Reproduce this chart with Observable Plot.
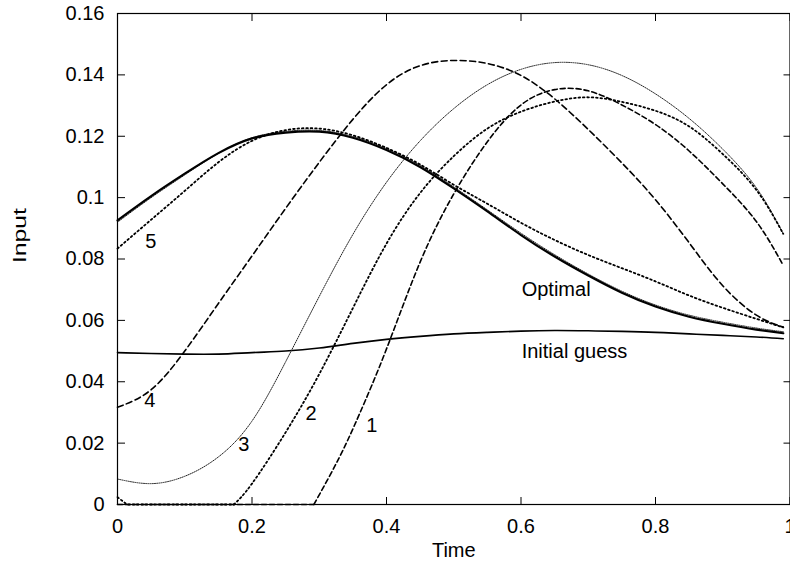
<!DOCTYPE html>
<html>
<head>
<meta charset="utf-8">
<script src="https://cdn.jsdelivr.net/npm/d3@7"></script>
<script src="https://cdn.jsdelivr.net/npm/@observablehq/plot@0.6"></script>
<style>
  html, body { margin: 0; padding: 0; background: white; }
  #chart { width: 790px; height: 569px; overflow: hidden; }
</style>
</head>
<body>
<div id="chart"></div>
<script>
// Shared time grid
const time = [0, 0.05, 0.1, 0.15, 0.2, 0.25, 0.3, 0.35, 0.4, 0.45, 0.5, 0.55, 0.6, 0.65, 0.7, 0.75, 0.8, 0.85, 0.9, 0.95, 0.99];

// Series values
const initialGuess = [0.0495, 0.0492, 0.0490, 0.0490, 0.0495, 0.0500, 0.0510, 0.0525, 0.0538, 0.0548, 0.0556, 0.0561, 0.0565, 0.0567, 0.0566, 0.0564, 0.0561, 0.0556, 0.0551, 0.0546, 0.0540];
const optimal      = [0.0926, 0.1005, 0.1078, 0.1145, 0.1193, 0.1212, 0.1215, 0.1195, 0.1155, 0.1100, 0.1030, 0.0955, 0.0878, 0.0808, 0.0746, 0.0690, 0.0645, 0.0612, 0.0589, 0.0570, 0.0558];
const iter6        = [0.0920, 0.1000, 0.1074, 0.1144, 0.1195, 0.1216, 0.1219, 0.1199, 0.1160, 0.1105, 0.1035, 0.0960, 0.0884, 0.0814, 0.0751, 0.0695, 0.0650, 0.0617, 0.0594, 0.0575, 0.0563];
const iter5        = [0.0834, 0.0928, 0.1022, 0.1115, 0.1185, 0.1220, 0.1225, 0.1203, 0.1162, 0.1108, 0.1042, 0.0980, 0.0918, 0.0862, 0.0813, 0.0770, 0.0727, 0.0681, 0.0641, 0.0605, 0.0577];
const iter4        = [0.0317, 0.0374, 0.0500, 0.0655, 0.0810, 0.0965, 0.1115, 0.1255, 0.1368, 0.1430, 0.1447, 0.1437, 0.1398, 0.1322, 0.1222, 0.1113, 0.0993, 0.0853, 0.0713, 0.0617, 0.0578];
const iter3        = [0.0083, 0.0068, 0.0092, 0.0155, 0.0272, 0.0465, 0.0678, 0.0880, 0.1050, 0.1185, 0.1290, 0.1368, 0.1418, 0.1440, 0.1433, 0.1398, 0.1338, 0.1258, 0.1158, 0.1032, 0.0882];

// Iterations 2 and 1 have flat zero stretches, so they carry their own time points
const time2  = [0, 0.014, 0.173, 0.2, 0.25, 0.3, 0.35, 0.4, 0.45, 0.5, 0.55, 0.6, 0.65, 0.7, 0.75, 0.8, 0.85, 0.9, 0.95, 0.99];
const iter2  = [0.0024, 0, 0, 0.0068, 0.0235, 0.0425, 0.0640, 0.0850, 0.1015, 0.1135, 0.1225, 0.1280, 0.1313, 0.1327, 0.1312, 0.1283, 0.1232, 0.1142, 0.1025, 0.0882];
const kink2 = 2;
const time1  = [0, 0.292, 0.33, 0.36, 0.4, 0.45, 0.5, 0.55, 0.6, 0.65, 0.7, 0.75, 0.8, 0.85, 0.9, 0.95, 0.99];
const iter1  = [0, 0, 0.0154, 0.0296, 0.0507, 0.0790, 0.1012, 0.1182, 0.1302, 0.1352, 0.1348, 0.1302, 0.1238, 0.1152, 0.1045, 0.0922, 0.0779];
const kink1 = 1;

// Annotation labels
const digitText = ["1", "2", "3", "4", "5"];
const digitT    = [0.378, 0.288, 0.188, 0.048, 0.0494];
const digitV    = [0.0257, 0.0297, 0.0195, 0.0338, 0.0858];
const wordText  = ["Optimal", "Initial guess"];
const wordT     = [0.601, 0.601];
const wordV     = [0.0700, 0.0498];

// Axis ticks
const xTicks = [0, 0.2, 0.4, 0.6, 0.8, 1];
const yTicks = [0, 0.02, 0.04, 0.06, 0.08, 0.1, 0.12, 0.14, 0.16];

const rows = (ts, vals) => ts.map((t, i) => ({t, v: vals[i]}));
const digits = digitText.map((s, i) => ({s, t: digitT[i], v: digitV[i]}));
const words = wordText.map((s, i) => ({s, t: wordT[i], v: wordV[i]}));

const r1 = rows(time1, iter1), r2 = rows(time2, iter2);

const font = "'Liberation Sans', Arial, Helvetica, sans-serif";
const coarseDot = {stroke: "black", strokeWidth: 1.8, strokeDasharray: "1.6,2.8"};
const fineDot = {stroke: "#222", strokeWidth: 1, strokeDasharray: "1,1.2"};

const chart = Plot.plot({
  width: 790,
  height: 569,
  marginLeft: 117,
  marginRight: 0.5,
  marginTop: 13,
  marginBottom: 65,
  style: {fontFamily: font, fontSize: "20px", color: "black", background: "white"},
  x: {domain: [0, 1]},
  y: {domain: [0, 0.16]},
  marks: [
    // tick labels
    Plot.axisX({anchor: "bottom", ticks: xTicks, tickSize: 0, tickPadding: 14, label: null, tickFormat: d => String(d)}),
    Plot.axisY({anchor: "left", ticks: yTicks, tickSize: 0, tickPadding: 13, label: null, tickFormat: d => String(d)}),
    // inward ticks on all four sides
    Plot.axisX({anchor: "bottom", ticks: xTicks, tickSize: -7, label: null, tickFormat: () => ""}),
    Plot.axisX({anchor: "top", ticks: xTicks, tickSize: -7, label: null, tickFormat: () => ""}),
    Plot.axisY({anchor: "left", ticks: yTicks, tickSize: -8, label: null, tickFormat: () => ""}),
    Plot.axisY({anchor: "right", ticks: yTicks, tickSize: -7, label: null, tickFormat: () => ""}),
    // curves
    Plot.line(rows(time, initialGuess), {x: "t", y: "v", stroke: "black", strokeWidth: 1.6, curve: "natural"}),
    Plot.line(rows(time, iter6), {x: "t", y: "v", ...fineDot, curve: "natural"}),
    Plot.line(rows(time, iter5), {x: "t", y: "v", ...coarseDot, curve: "natural"}),
    Plot.line(rows(time, iter4), {x: "t", y: "v", stroke: "black", strokeWidth: 1.6, strokeDasharray: "6,3.5", curve: "natural"}),
    Plot.line(rows(time, iter3), {x: "t", y: "v", ...fineDot, curve: "natural"}),
    Plot.line(r2.slice(0, kink2 + 1), {x: "t", y: "v", ...coarseDot, curve: "linear"}),
    Plot.line(r2.slice(kink2), {x: "t", y: "v", ...coarseDot, curve: "natural"}),
    Plot.line(r1.slice(0, kink1 + 1), {x: "t", y: "v", stroke: "black", strokeWidth: 1.6, strokeDasharray: "5,3", curve: "linear"}),
    Plot.line(r1.slice(kink1), {x: "t", y: "v", stroke: "black", strokeWidth: 1.6, strokeDasharray: "5,3", curve: "natural"}),
    Plot.line(rows(time, optimal), {x: "t", y: "v", stroke: "black", strokeWidth: 2.2, curve: "natural"}),
    // annotations
    Plot.text(digits, {x: "t", y: "v", text: "s", textAnchor: "middle", fill: "black", fontSize: 20}),
    Plot.text(words, {x: "t", y: "v", text: "s", textAnchor: "start", fill: "black", fontSize: 20}),
    // axis titles
    Plot.text(["Time"], {frameAnchor: "bottom", dy: 52.6, fill: "black", fontSize: 20}),
    Plot.text(["Input"], {frameAnchor: "left", rotate: -90, dx: -97.2, dy: 4, fill: "black", fontSize: 18}),
    Plot.frame({stroke: "black", strokeWidth: 1.2})
  ]
});

// stretch the y title to the length it has in the reference
d3.select(chart).selectAll("text").filter(function() { return this.textContent === "Input"; })
  .attr("textLength", 55).attr("lengthAdjust", "spacingAndGlyphs");

document.getElementById("chart").appendChild(chart);
</script>
</body>
</html>
